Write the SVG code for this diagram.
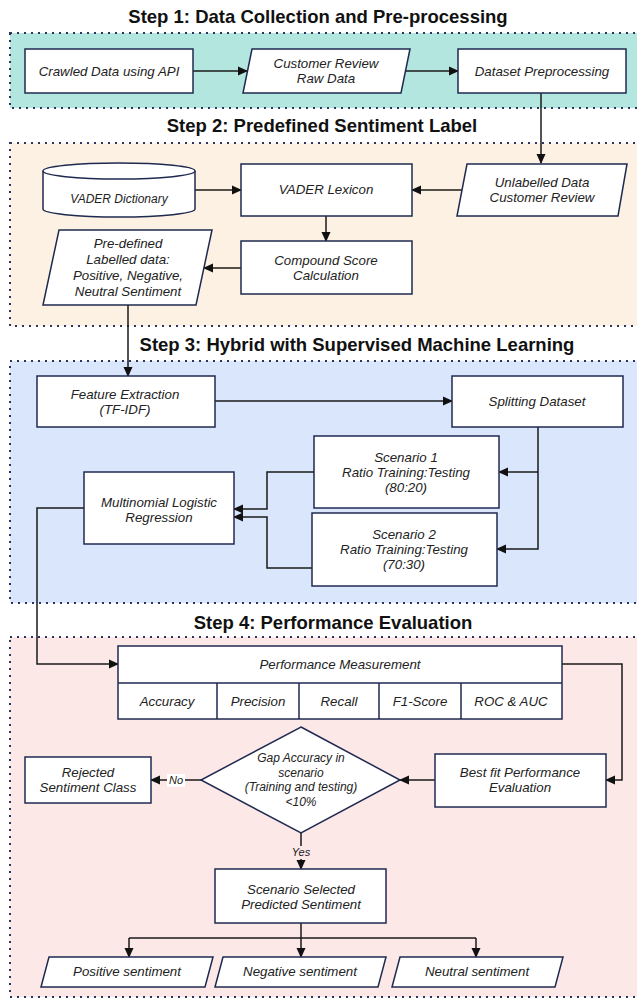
<svg xmlns="http://www.w3.org/2000/svg" width="637" height="1001" viewBox="0 0 637 1001">
<style>
.title{font-family:"Liberation Sans",Arial,sans-serif;font-weight:bold;font-size:18.5px;fill:#111;text-anchor:middle}
.t{font-family:"Liberation Sans",Arial,sans-serif;font-style:italic;font-size:13.3px;fill:#222;text-anchor:middle}
.ts{font-family:"Liberation Sans",Arial,sans-serif;font-style:italic;font-size:12px;fill:#222;text-anchor:middle}
.tl{font-family:"Liberation Sans",Arial,sans-serif;font-style:italic;font-size:11px;fill:#222;text-anchor:middle}
.step{stroke:#2a3560;stroke-width:2;stroke-dasharray:2 5}
.box{fill:#fff;stroke:#1f2a50;stroke-width:1.5}
.conn{fill:none;stroke:#1a1a1a;stroke-width:1.5}
</style>
<defs>
<marker id="arr" markerWidth="10" markerHeight="10" refX="9" refY="5" orient="auto" markerUnits="userSpaceOnUse">
<path d="M0,0.5 L10,5 L0,9.5 Z" fill="#111"/>
</marker>
</defs>
<rect width="637" height="1001" fill="#fff"/>
<g id="step1">
<text class="title" x="318" y="23">Step 1: Data Collection and Pre-processing</text>
<rect class="step" x="10" y="33" width="640" height="75" fill="#b3e6df"/>
</g>
<g id="step2">
<text class="title" x="322" y="132">Step 2: Predefined Sentiment Label</text>
<rect class="step" x="10" y="143" width="640" height="183" fill="#fdf1e3"/>
</g>
<g id="step3">
<text class="title" x="357" y="351">Step 3: Hybrid with Supervised Machine Learning</text>
<rect class="step" x="10" y="361" width="640" height="242" fill="#dae6fb"/>
</g>
<g id="step4">
<text class="title" x="333" y="629">Step 4: Performance Evaluation</text>
<rect class="step" x="10" y="637" width="640" height="360" fill="#fde8e8"/>
</g>

<g id="connectors">
<path class="conn" d="M193,71 H247" marker-end="url(#arr)"/>
<path class="conn" d="M406,71 H458" marker-end="url(#arr)"/>
<path class="conn" d="M541,93 V163" marker-end="url(#arr)"/>
<path class="conn" d="M195,190 H241" marker-end="url(#arr)"/>
<path class="conn" d="M462,190 H412" marker-end="url(#arr)"/>
<path class="conn" d="M326,216 V241" marker-end="url(#arr)"/>
<path class="conn" d="M241,268 H204" marker-end="url(#arr)"/>
<path class="conn" d="M128,305 V376" marker-end="url(#arr)"/>
<path class="conn" d="M215,401 H452" marker-end="url(#arr)"/>
<path class="conn" d="M538,427 V549 H497" marker-end="url(#arr)"/>
<path class="conn" d="M538,472 H499" marker-end="url(#arr)"/>
<path class="conn" d="M314,472 H267 V509 H234" marker-end="url(#arr)"/>
<path class="conn" d="M312,568 H267 V517 H234" marker-end="url(#arr)"/>
<path class="conn" d="M84,508 H37 V664 H118" marker-end="url(#arr)"/>
<path class="conn" d="M562,664 H622 V780 H606" marker-end="url(#arr)"/>
<path class="conn" d="M435,780 H400" marker-end="url(#arr)"/>
<path class="conn" d="M201,780 H151" marker-end="url(#arr)"/>
<path class="conn" d="M301,833 V869" marker-end="url(#arr)"/>
<path class="conn" d="M301,923 V957" marker-end="url(#arr)"/>
<path class="conn" d="M129,938 H476"/>
<path class="conn" d="M129,938 V957" marker-end="url(#arr)"/>
<path class="conn" d="M476,938 V957" marker-end="url(#arr)"/>
<rect x="167" y="774" width="18" height="13" fill="#fff"/>
<text class="tl" x="176" y="784">No</text>
<rect x="289" y="846" width="24" height="13" fill="#fde8e8"/>
<text class="tl" x="301" y="856">Yes</text>
</g>

<g id="crawled">
<rect class="box" x="25" y="49" width="168" height="44"/>
<text class="t" x="109" y="76">Crawled Data using API</text>
</g>
<g id="raw">
<polygon class="box" points="252,49 410,49 401,93 243,93"/>
<text class="t" x="326" y="68">Customer Review</text>
<text class="t" x="326" y="83">Raw Data</text>
</g>
<g id="preprocess">
<rect class="box" x="458" y="49" width="168" height="44"/>
<text class="t" x="542" y="76">Dataset Preprocessing</text>
</g>

<g id="vaderdict">
<path class="box" d="M43,171 A76,8 0 0 1 195,171 V209 A76,8 0 0 1 43,209 Z"/>
<path class="box" d="M43,171 A76,8 0 0 0 195,171" fill="none"/>
<text class="ts" x="119" y="203">VADER Dictionary</text>
</g>
<g id="lexicon">
<rect class="box" x="241" y="164" width="171" height="52"/>
<text class="t" x="326" y="194">VADER Lexicon</text>
</g>
<g id="unlabelled">
<polygon class="box" points="467,164 627,164 618,216 457,216"/>
<text class="t" x="542" y="187">Unlabelled Data</text>
<text class="t" x="542" y="202">Customer Review</text>
</g>
<g id="compound">
<rect class="box" x="241" y="241" width="171" height="53"/>
<text class="t" x="326" y="265">Compound Score</text>
<text class="t" x="326" y="280">Calculation</text>
</g>
<g id="predefined">
<polygon class="box" points="59,230 212,230 196,305 43,305"/>
<text class="t" x="128" y="248">Pre-defined</text>
<text class="t" x="128" y="264">Labelled data:</text>
<text class="t" x="128" y="280">Positive, Negative,</text>
<text class="t" x="128" y="296">Neutral Sentiment</text>
</g>

<g id="feature">
<rect class="box" x="37" y="376" width="178" height="51"/>
<text class="t" x="125" y="399">Feature Extraction</text>
<text class="t" x="125" y="414">(TF-IDF)</text>
</g>
<g id="splitting">
<rect class="box" x="452" y="376" width="171" height="51"/>
<text class="t" x="537" y="406">Splitting Dataset</text>
</g>
<g id="scenario1">
<rect class="box" x="314" y="436" width="185" height="72"/>
<text class="t" x="406" y="462">Scenario 1</text>
<text class="t" x="406" y="477">Ratio Training:Testing</text>
<text class="t" x="406" y="492">(80:20)</text>
</g>
<g id="scenario2">
<rect class="box" x="312" y="513" width="185" height="73"/>
<text class="t" x="404" y="539">Scenario 2</text>
<text class="t" x="404" y="554">Ratio Training:Testing</text>
<text class="t" x="404" y="569">(70:30)</text>
</g>
<g id="mlr">
<rect class="box" x="84" y="472" width="150" height="72"/>
<text class="t" x="159" y="507">Multinomial Logistic</text>
<text class="t" x="159" y="522">Regression</text>
</g>

<g id="perf">
<rect class="box" x="118" y="646" width="444" height="73"/>
<path d="M118,683 H562 M217,683 V719 M299,683 V719 M379,683 V719 M461,683 V719" stroke="#1f2a50" stroke-width="1.5" fill="none"/>
<text class="t" x="340" y="669">Performance Measurement</text>
<text class="t" x="167" y="706">Accuracy</text>
<text class="t" x="258" y="706">Precision</text>
<text class="t" x="339" y="706">Recall</text>
<text class="t" x="420" y="706">F1-Score</text>
<text class="t" x="511" y="706">ROC &amp; AUC</text>
</g>
<g id="decision">
<polygon class="box" points="301,727 400,780 301,833 201,780"/>
<text class="ts" x="301" y="762">Gap Accuracy in</text>
<text class="ts" x="301" y="776.5">scenario</text>
<text class="ts" x="301" y="791">(Training and testing)</text>
<text class="ts" x="301" y="805.5">&lt;10%</text>
</g>
<g id="rejected">
<rect class="box" x="25" y="757" width="126" height="46"/>
<text class="t" x="88" y="777">Rejected</text>
<text class="t" x="88" y="792">Sentiment Class</text>
</g>
<g id="bestfit">
<rect class="box" x="435" y="754" width="171" height="53"/>
<text class="t" x="520" y="777">Best fit Performance</text>
<text class="t" x="520" y="792">Evaluation</text>
</g>
<g id="selected">
<rect class="box" x="215" y="869" width="171" height="54"/>
<text class="t" x="301" y="894">Scenario Selected</text>
<text class="t" x="301" y="909">Predicted Sentiment</text>
</g>
<g id="positive">
<polygon class="box" points="49,957 213,957 205,987 41,987"/>
<text class="t" x="127" y="976">Positive sentiment</text>
</g>
<g id="negative">
<polygon class="box" points="223,957 386,957 378,987 215,987"/>
<text class="t" x="300" y="976">Negative sentiment</text>
</g>
<g id="neutral">
<polygon class="box" points="400,957 563,957 555,987 392,987"/>
<text class="t" x="477" y="976">Neutral sentiment</text>
</g>
</svg>
